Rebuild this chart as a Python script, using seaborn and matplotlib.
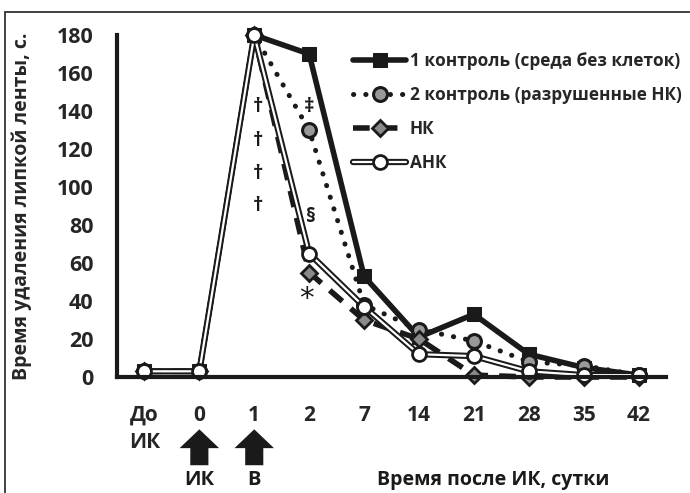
import numpy as np
import matplotlib
matplotlib.use("Agg")
import matplotlib.pyplot as plt
import seaborn as sns
from matplotlib.patches import Rectangle, FancyArrow
from matplotlib.transforms import blended_transform_factory
from matplotlib.legend_handler import HandlerTuple

# --- data ---
categories = ["До\nИК", "0", "1", "2", "7", "14", "21", "28", "35", "42"]
control1 = [3, 3, 180, 170, 53, 21, 33, 12, 5, 1]      # среда без клеток
control2 = [3, 3, 180, 130, 38, 25, 19, 8, 6, 1]       # разрушенные НК
nk = [3, 3, 180, 55, 30, 20, 1, 0, 0, 0]
ank = [3, 3, 180, 65, 37, 12, 11, 3, 1, 1]

series_labels = ["1 контроль (среда без клеток)", "2 контроль (разрушенные НК)", "НК", "АНК"]

# significance marks: category position, value, symbol
marks_x = [2.07, 2.07, 2.07, 2.07, 3.0, 3.03, 2.95]
marks_y = [142, 124, 107, 90, 142, 84, 41]
marks_s = ["†", "†", "†", "†", "‡", "§", "*"]

sns.set_theme(style="white")
plt.rcParams["font.family"] = ["Open Sans", "DejaVu Sans"]
plt.rcParams["font.weight"] = "bold"

x = np.arange(len(categories))

fig = plt.figure(figsize=(6.9, 4.93), dpi=100)
ax = fig.add_axes([117 / 690, 1 - 377 / 493, 549 / 690, 342 / 493])

dark = "#1a1a1a"
sns.lineplot(x=x, y=control1, ax=ax, color=dark, lw=4, marker="s", markersize=9.5,
             markerfacecolor=dark, markeredgecolor=dark, label=series_labels[0], clip_on=False)
sns.lineplot(x=x, y=control2, ax=ax, color=dark, lw=3.6, linestyle=(0, (0.05, 2.4)),
             dash_capstyle="round", marker="o", markersize=10, markerfacecolor="#999999",
             markeredgecolor=dark, markeredgewidth=2.2, label=series_labels[1], clip_on=False)
sns.lineplot(x=x, y=nk, ax=ax, color=dark, lw=4, linestyle=(0, (3, 2)),
             marker="D", markersize=8.5, markerfacecolor="#8a8a8a", markeredgecolor=dark,
             markeredgewidth=2, label=series_labels[2], clip_on=False)
sns.lineplot(x=x, y=ank, ax=ax, color=dark, lw=4.5, label="_ank_outline", clip_on=False)
sns.lineplot(x=x, y=ank, ax=ax, color="white", lw=1.6, marker="o", markersize=10,
             markerfacecolor="white", markeredgecolor=dark, markeredgewidth=2,
             label=series_labels[3], clip_on=False)

ax.set_xlim(-0.5, len(categories) - 0.5)
ax.set_ylim(0, 180)
ax.set_yticks(np.arange(0, 181, 20))

# ticks between categories, labels on categories
ax.set_xticks(np.arange(-0.5, len(categories), 1))
ax.set_xticklabels([])
ax.set_xticks(x, minor=True)
ax.set_xticklabels(categories, minor=True, fontsize=15, fontweight="bold", linespacing=1.4)
ax.tick_params(axis="x", which="major", direction="out", length=7, width=3, color=dark)
ax.tick_params(axis="x", which="minor", length=0, pad=20)
ax.tick_params(axis="y", direction="out", length=7, width=3, color=dark, pad=10,
               labelsize=15.5)
for lab in ax.get_yticklabels():
    lab.set_fontweight("bold")

for side in ["top", "right"]:
    ax.spines[side].set_visible(False)
for side in ["left", "bottom"]:
    ax.spines[side].set_linewidth(3)
    ax.spines[side].set_color(dark)

ax.set_ylabel("Время удаления липкой ленты, с.", fontsize=14, fontweight="bold")
ax.yaxis.set_label_coords(-0.155, 0.5)

for mx, my, ms in zip(marks_x, marks_y, marks_s):
    if ms == "*":
        ax.text(mx, my, ms, ha="center", va="center", fontsize=21, color=dark,
                family=["DejaVu Sans"], fontweight="normal")
    else:
        ax.text(mx, my, ms, ha="center", va="center", fontsize=14.5, fontweight="bold",
                color=dark)

# legend: АНК drawn as a double line (black outline with white core)
handles, labels = ax.get_legend_handles_labels()
hmap = dict(zip(labels, handles))
outline = ax.lines[3]
leg_handles = [hmap[series_labels[0]], hmap[series_labels[1]], hmap[series_labels[2]],
               (outline, hmap[series_labels[3]])]
ax.legend(leg_handles, series_labels, loc="upper left", bbox_to_anchor=(0.43, 0.949),
          frameon=False, handlelength=3.1, handletextpad=0.2,
          labelspacing=0.93, borderpad=0, borderaxespad=0, numpoints=1,
          handler_map={tuple: HandlerTuple(ndivide=1)},
          prop={"weight": "bold", "size": 12.4})

# block arrows under "0" and "1"
trans = blended_transform_factory(ax.transData, ax.transAxes)
for xi in [1, 2]:
    ax.add_patch(FancyArrow(xi, -0.258, 0, 0.105, width=0.33, head_width=0.72,
                            head_length=0.055, length_includes_head=True,
                            transform=trans, clip_on=False, color=dark, lw=0))
ax.text(1, -0.3, "ИК", transform=trans, ha="center", va="center", fontsize=14.5,
        fontweight="bold", color=dark)
ax.text(2, -0.3, "В", transform=trans, ha="center", va="center", fontsize=14.5,
        fontweight="bold", color=dark)
ax.text(6.36, -0.3, "Время после ИК, сутки", transform=trans, ha="center", va="center",
        fontsize=14, fontweight="bold", color=dark)

# outer frame of the original figure panel
fig.patches.append(Rectangle((5 / 690, -0.05), 1.0, 0.05 + 1 - 12 / 493,
                             transform=fig.transFigure, fill=False, lw=1.3,
                             ec="#333333"))

fig.savefig("out.png", dpi=100)
